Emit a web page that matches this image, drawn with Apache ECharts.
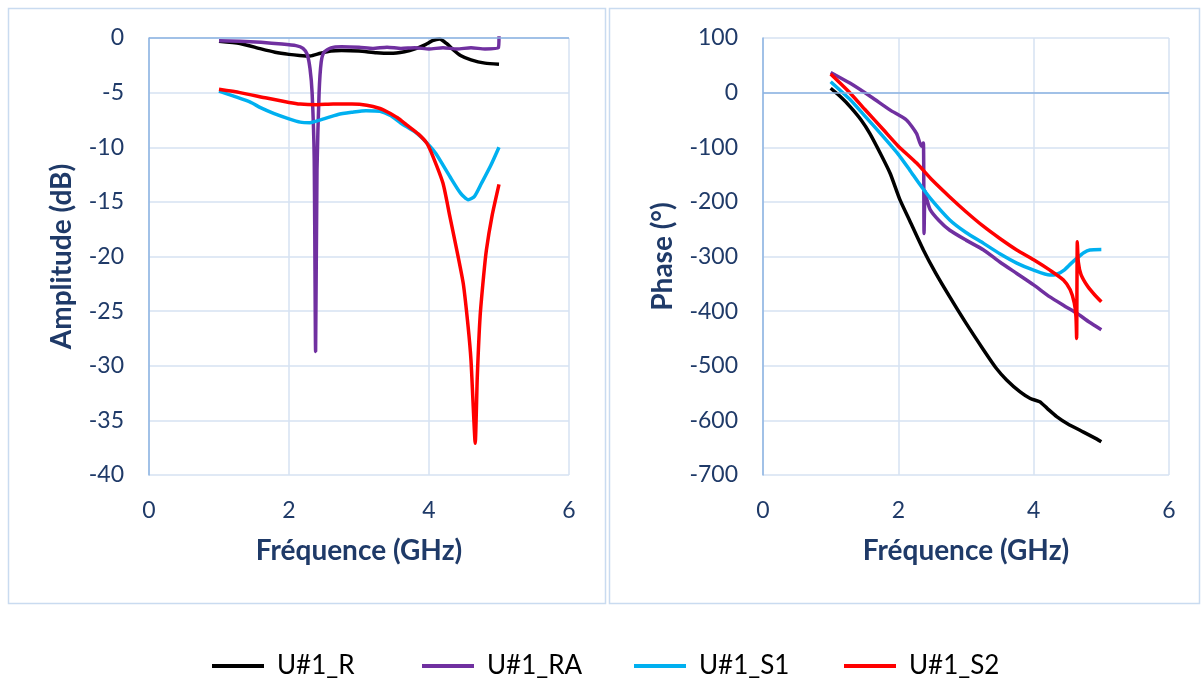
<!DOCTYPE html>
<html>
<head>
<meta charset="utf-8">
<script src="https://cdn.jsdelivr.net/npm/echarts@6/dist/echarts.min.js"></script>
<style>
html,body{margin:0;padding:0;background:#fff;}
#chart{width:1203px;height:680px;}
</style>
</head>
<body>
<div id="chart"></div>
<script>
// ---------- DATA ----------
var seriesNames = ['U#1_R', 'U#1_RA', 'U#1_S1', 'U#1_S2'];
var xTicks = [0, 2, 4, 6];
var ampTicks = [0, -5, -10, -15, -20, -25, -30, -35, -40];
var phaseTicks = [100, 0, -100, -200, -300, -400, -500, -600, -700];

// Amplitude (dB) vs frequency (GHz)
var ampR_f = [1.0, 1.3, 1.6, 1.8, 2.0, 2.15, 2.3, 2.45, 2.6, 2.75, 3.0, 3.25, 3.45, 3.65, 3.8, 3.95, 4.05, 4.15, 4.25, 4.35, 4.45, 4.6, 4.8, 5.0];
var ampR_v = [-0.3, -0.5, -1.0, -1.3, -1.5, -1.6, -1.65, -1.4, -1.2, -1.15, -1.2, -1.35, -1.4, -1.25, -1.0, -0.6, -0.25, -0.1, -0.5, -1.1, -1.6, -2.0, -2.3, -2.4];

var ampRA_f = [1.0, 1.3, 1.6, 1.9, 2.1, 2.2, 2.26, 2.3, 2.33, 2.36, 2.38, 2.40, 2.43, 2.46, 2.5, 2.6, 2.75, 3.0, 3.2, 3.4, 3.6, 3.8, 4.0, 4.2, 4.4, 4.6, 4.8, 4.99, 5.0];
var ampRA_v = [-0.25, -0.3, -0.4, -0.55, -0.7, -0.95, -1.5, -2.8, -5, -11, -28.7, -12, -5, -2.2, -1.3, -0.9, -0.8, -0.85, -0.95, -0.85, -0.95, -0.9, -1.0, -0.9, -1.0, -0.9, -1.0, -0.9, 0.2];

var ampS1_f = [1.0, 1.2, 1.44, 1.6, 1.78, 2.0, 2.16, 2.3, 2.45, 2.7, 2.9, 3.1, 3.3, 3.45, 3.6, 3.8, 3.97, 4.1, 4.3, 4.45, 4.56, 4.65, 4.75, 4.88, 5.0];
var ampS1_v = [-4.85, -5.3, -5.85, -6.4, -6.9, -7.4, -7.7, -7.75, -7.5, -7.0, -6.8, -6.65, -6.7, -7.1, -7.8, -8.6, -9.6, -10.6, -12.7, -14.2, -14.8, -14.5, -13.3, -11.7, -10.0];

var ampS2_f = [1.0, 1.3, 1.68, 2.0, 2.16, 2.4, 2.63, 2.9, 3.11, 3.3, 3.4, 3.55, 3.68, 3.85, 3.97, 4.06, 4.2, 4.3, 4.4, 4.49, 4.56, 4.6, 4.63, 4.66, 4.69, 4.73, 4.78, 4.82, 4.9, 5.0];
var ampS2_v = [-4.7, -5.0, -5.5, -5.9, -6.05, -6.1, -6.05, -6.05, -6.15, -6.45, -6.75, -7.3, -7.95, -8.8, -9.65, -10.9, -13.3, -16.4, -19.5, -22.5, -26.5, -29.5, -33.5, -37.1, -31, -25.5, -21.8, -19.4, -16.3, -13.4];

// Phase (deg) vs frequency (GHz)
var phR_f = [1.0, 1.15, 1.29, 1.45, 1.58, 1.75, 1.88, 2.02, 2.17, 2.37, 2.55, 2.76, 3.0, 3.26, 3.45, 3.6, 3.8, 3.95, 4.09, 4.2, 4.34, 4.5, 4.73, 4.9, 5.0];
var phR_v = [8, -8, -26, -50, -75, -115, -148, -195, -235, -288, -330, -374, -422, -471, -505, -526, -548, -560, -566, -578, -593, -606, -621, -632, -639];

var phRA_f = [1.0, 1.29, 1.6, 1.88, 2.12, 2.27, 2.34, 2.37, 2.38, 2.395, 2.42, 2.47, 2.6, 2.76, 3.0, 3.26, 3.5, 3.75, 4.0, 4.24, 4.45, 4.64, 4.82, 5.0];
var phRA_v = [37, 17, -8, -32, -50, -75, -98, -92, -258, -180, -195, -214, -234, -252, -270, -288, -310, -331, -352, -374, -390, -404, -420, -434];

var phS1_f = [1.0, 1.29, 1.5, 1.78, 2.0, 2.17, 2.3, 2.47, 2.76, 3.0, 3.26, 3.5, 3.75, 4.0, 4.24, 4.35, 4.45, 4.55, 4.64, 4.74, 4.83, 5.0];
var phS1_v = [20, -13, -42, -81, -113, -142, -165, -193, -233, -256, -276, -295, -312, -325, -334, -332, -325, -313, -303, -293, -288, -287];

var phS2_f = [1.0, 1.29, 1.5, 1.78, 2.0, 2.27, 2.5, 2.76, 3.0, 3.26, 3.5, 3.75, 4.0, 4.24, 4.44, 4.54, 4.6, 4.625, 4.635, 4.645, 4.66, 4.7, 4.8, 4.9, 5.0];
var phS2_v = [34, -1, -30, -68, -98, -129, -160, -191, -218, -245, -267, -288, -306, -325, -343, -361, -385, -410, -450, -273, -310, -333, -355, -370, -383];

var colors = ['#000000', '#7030a0', '#00b0f0', '#ff0000'];

// ---------- CHART ----------
function zip(f, v) { var out = []; for (var i = 0; i < f.length; i++) out.push([f[i], v[i]]); return out; }

var TXT = '#1f3a68';
var GRIDC = '#d6e2f2';
var AXC = '#8db3e2';
var FONT = 'Lato';

function xAxisCfg(gi) {
  return {
    gridIndex: gi, type: 'value', min: xTicks[0], max: xTicks[xTicks.length - 1], interval: 2,
    name: 'Fréquence (GHz)', nameLocation: 'middle', nameGap: 62,
    nameTextStyle: { color: TXT, fontSize: 28, fontWeight: 'bold', fontFamily: FONT },
    axisLine: { show: false }, axisTick: { show: false },
    axisLabel: { color: TXT, fontSize: 23, fontFamily: FONT, margin: 24 },
    splitLine: { show: true, lineStyle: { color: GRIDC, width: 1.5 } }
  };
}
function yAxisCfg(gi, name, ticks, gap) {
  return {
    gridIndex: gi, type: 'value', min: ticks[ticks.length - 1], max: ticks[0],
    interval: ticks[0] - ticks[1],
    name: name, nameLocation: 'middle', nameGap: gap,
    nameTextStyle: { color: TXT, fontSize: 28, fontWeight: 'bold', fontFamily: FONT },
    axisLine: { show: true, onZero: false, lineStyle: { color: AXC, width: 1.5 } },
    axisTick: { show: false },
    axisLabel: { color: TXT, fontSize: 23, fontFamily: FONT, margin: 25 },
    splitLine: { show: true, lineStyle: { color: GRIDC, width: 1.5 } }
  };
}

var ampData = [zip(ampR_f, ampR_v), zip(ampRA_f, ampRA_v), zip(ampS1_f, ampS1_v), zip(ampS2_f, ampS2_v)];
var phData = [zip(phR_f, phR_v), zip(phRA_f, phRA_v), zip(phS1_f, phS1_v), zip(phS2_f, phS2_v)];

var series = [];
[0, 1].forEach(function (gi) {
  series.push({
    type: 'line', xAxisIndex: gi, yAxisIndex: gi, data: [], silent: true, z: 1,
    markLine: { silent: true, symbol: ['none', 'none'], label: { show: false },
      lineStyle: { color: AXC, width: 1.5, type: 'solid' }, data: [{ yAxis: 0 }], animation: false }
  });
});
seriesNames.forEach(function (n, i) {
  series.push({ name: n, type: 'line', xAxisIndex: 0, yAxisIndex: 0, data: ampData[i],
    showSymbol: false, smooth: 0.2, z: 3,
    lineStyle: { color: colors[i], width: 3.5 }, itemStyle: { color: colors[i] } });
  series.push({ name: n, type: 'line', xAxisIndex: 1, yAxisIndex: 1, data: phData[i],
    showSymbol: false, smooth: 0.2, z: 3,
    lineStyle: { color: colors[i], width: 3.5 }, itemStyle: { color: colors[i] } });
});

var legendLefts = [207, 417, 629, 839];
var legends = seriesNames.map(function (n, i) {
  return {
    data: [n], left: legendLefts[i], top: 648, icon: 'rect', itemWidth: 52, itemHeight: 4,
    itemStyle: { color: colors[i] }, selectedMode: false,
    textStyle: { color: '#000', fontSize: 26, fontFamily: FONT, padding: [0, 0, 0, 8] }
  };
});

var chart = echarts.init(document.getElementById('chart'), null, { renderer: 'canvas' });
chart.setOption({
  animation: false,
  backgroundColor: '#ffffff',
  color: colors,
  graphic: [
    { type: 'rect', shape: { x: 8.5, y: 8.5, width: 597, height: 595 }, style: { fill: 'none', stroke: '#c9dbf0', lineWidth: 1.5 }, silent: true },
    { type: 'rect', shape: { x: 609.5, y: 8.5, width: 590, height: 595 }, style: { fill: 'none', stroke: '#c9dbf0', lineWidth: 1.5 }, silent: true }
  ],
  grid: [
    { left: 149, top: 38, width: 420, height: 437 },
    { left: 763, top: 38, width: 406, height: 437 }
  ],
  xAxis: [xAxisCfg(0), xAxisCfg(1)],
  yAxis: [yAxisCfg(0, 'Amplitude (dB)', ampTicks, 73), yAxisCfg(1, 'Phase (°)', phaseTicks, 86)],
  legend: legends,
  series: series
});
</script>
</body>
</html>
